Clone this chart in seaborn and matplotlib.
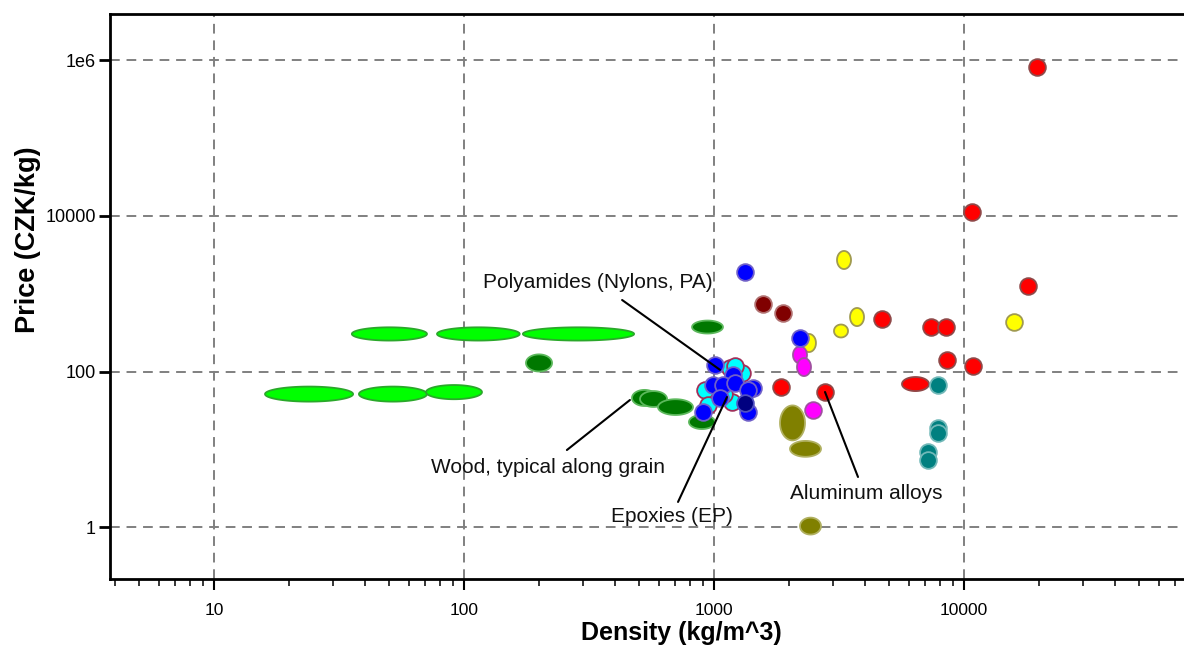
import numpy as np
import matplotlib
matplotlib.use("Agg")
import matplotlib.pyplot as plt
from matplotlib.ticker import FixedLocator, FixedFormatter, LogLocator, NullFormatter, NullLocator
import seaborn as sns

# ---- material property ranges: density (kg/m^3) and price (CZK/kg) ----
# Elongated bubbles: (low, high) ranges
foam_density = [(35.6, 71.1), (78.0, 167), (172, 479), (16.0, 36.0), (38.0, 71.1), (70.5, 118)]
foam_price = [(250, 370), (250, 370), (250, 370), (41, 64), (41, 64), (44, 67)]

wood_density = [(177, 225), (817, 1086), (470, 592), (506, 649), (597, 824), (794, 1009)]
wood_price = [(100, 166), (308, 452), (36, 58), (35, 56), (27.6, 44), (18.2, 27.6)]

ceramic_density = [(1837, 2312), (2014, 2679), (2208, 2679)]
ceramic_price = [(13, 36.6), (8, 12.8), (0.8, 1.32)]

steel_density = [(5649, 7244)]
steel_price = [(56, 85)]

glass_density = [(3105, 3532), (3501, 3981), (3020, 3436), (2251, 2557)]
glass_price = [(2080, 3550), (384, 656), (274, 402), (178, 304)]

elastomer_density = [(2070, 2355), (2148, 2443)]
elastomer_price = [(127, 210), (87.4, 149)]

# Narrow-range materials shown as points
polymer_density = [1009, 1191, 991, 1086, 1213, 1432, 1368, 1057, 1368, 904, 2208, 1330]
polymer_price = [121, 90.2, 67, 67, 71.1, 61.4, 57.8, 45.6, 30.1, 30.1, 270, 1905]

thermoset_density = [1159, 1294, 1213, 920, 946, 1180, 1100]
thermoset_price = [111, 95.7, 118, 57.8, 37.1, 40.5, 52]

dark_polymer_density = [1330]
dark_polymer_price = [39.4]

composite_density = [1570, 1888]
composite_price = [738, 565]

metal_density = [4699, 1854, 2780, 7379, 8472, 8551, 10864, 18030, 19588, 10765]
metal_price = [473, 63.2, 54.5, 373, 373, 141, 118, 1259, 8.25e5, 1.125e4]

cast_density = [7870, 7870, 7870, 7178, 7178]
cast_price = [67, 18.8, 16.2, 9.22, 7.28]

glass_point_density = [15849]
glass_point_price = [433]

elastomer_point_density = [2489]
elastomer_point_price = [32]

# Annotations: label, text position, leader end
labels = ["Polyamides (Nylons, PA)", "Wood, typical along grain", "Epoxies (EP)", "Aluminum alloys"]
label_xy = [(344, 1416), (217, 5.74), (676, 1.345), (4055, 2.66)]
leader_start = [(429, 831), (258, 9.78), (718, 2.10), (3767, 4.40)]
leader_end = [(1057, 105), (461, 43), (1127, 47), (2780, 54.5)]

x_ticks = [10, 100, 1000, 10000]
x_tick_labels = ["10", "100", "1000", "10000"]
y_ticks = [1, 100, 10000, 1e6]
y_tick_labels = ["1", "100", "10000", "1e6"]

# ---- styling ----
sns.set_theme(style="white")
plt.rcParams["font.family"] = ["Liberation Sans", "DejaVu Sans"]

fig = plt.figure(figsize=(11.84, 6.48), dpi=100)
ax = fig.add_axes([110 / 1184, 1 - 579 / 648, 1074 / 1184, 565 / 648])
ax.set_xscale("log")
ax.set_yscale("log")
ax.set_xlim(3.837, 75858)
ax.set_ylim(0.2144, 3.963e6)


def draw_bubbles(dens, price, face, edge, z=2):
    t = np.linspace(0, 2 * np.pi, 120)
    for (dlo, dhi), (plo, phi) in zip(dens, price):
        cx = (np.log10(dlo) + np.log10(dhi)) / 2
        rx = (np.log10(dhi) - np.log10(dlo)) / 2
        cy = (np.log10(plo) + np.log10(phi)) / 2
        ry = (np.log10(phi) - np.log10(plo)) / 2
        ax.fill(10 ** (cx + rx * np.cos(t)), 10 ** (cy + ry * np.sin(t)),
                facecolor=face, edgecolor=edge, linewidth=1.3, zorder=z)


def draw_points(dens, price, face, edge, z=3):
    sns.scatterplot(x=dens, y=price, ax=ax, s=145, color=face, edgecolor=edge,
                    linewidth=1.3, zorder=z, legend=False)


draw_bubbles(foam_density, foam_price, "#00ff00", "#2aa82a")
draw_bubbles(wood_density, wood_price, "#007800", "#5cb85c")
draw_bubbles(ceramic_density, ceramic_price, "#808000", "#b0b060")
draw_bubbles(glass_density, glass_price, "#ffff00", "#a09a50")
draw_bubbles(steel_density, steel_price, "#ff0000", "#904848")

draw_points(composite_density, composite_price, "#800000", "#b07070")
draw_points(cast_density, cast_price, "#008080", "#70b8b8")
draw_points(glass_point_density, glass_point_price, "#ffff00", "#a09a50")
draw_points(thermoset_density, thermoset_price, "#00ffff", "#a0305a")
draw_points(polymer_density, polymer_price, "#0000ff", "#7060c8", z=3.2)
draw_points(dark_polymer_density, dark_polymer_price, "#000080", "#5050c0", z=3.2)
draw_points(metal_density, metal_price, "#ff0000", "#904848")
draw_points(elastomer_point_density, elastomer_point_price, "#ff00ff", "#a050a0")
draw_bubbles(elastomer_density, elastomer_price, "#ff00ff", "#a050a0", z=3.1)

for text, xy, p0, p1 in zip(labels, label_xy, leader_start, leader_end):
    ax.text(xy[0], xy[1], text, ha="center", va="center", fontsize=15, color="#111111", zorder=6)
    ax.plot([p0[0], p1[0]], [p0[1], p1[1]], color="black", linewidth=1.5, zorder=5)

# ---- axes, ticks, grid ----
ax.xaxis.set_major_locator(FixedLocator(x_ticks))
ax.xaxis.set_major_formatter(FixedFormatter(x_tick_labels))
ax.xaxis.set_minor_locator(LogLocator(base=10, subs=np.arange(2, 10)))
ax.xaxis.set_minor_formatter(NullFormatter())
ax.yaxis.set_major_locator(FixedLocator(y_ticks))
ax.yaxis.set_major_formatter(FixedFormatter(y_tick_labels))
ax.yaxis.set_minor_locator(NullLocator())

ax.tick_params(axis="x", which="major", direction="out", length=8, width=1.5, pad=9,
               labelsize=12.5, colors="black", bottom=True)
ax.tick_params(axis="x", which="minor", direction="out", length=5, width=1.3, bottom=True)
ax.tick_params(axis="y", which="major", direction="out", length=8, width=2, pad=2,
               labelsize=13, colors="black", left=True)

ax.grid(True, which="major", color="#808080", linestyle=(0, (5, 3.5)), linewidth=1.4)
ax.set_axisbelow(True)

for side in ["left", "bottom", "top"]:
    ax.spines[side].set_color("black")
    ax.spines[side].set_linewidth(2)
ax.spines["right"].set_visible(False)

ax.set_xlabel("Density (kg/m^3)", fontsize=18, fontweight="bold", color="black")
ax.set_ylabel("Price (CZK/kg)", fontsize=19.5, fontweight="bold", color="black")
ax.xaxis.set_label_coords((681 - 110) / 1074, (579 - 633) / 565)
ax.xaxis.label.set_va("center")
ax.yaxis.set_label_coords((28 - 110) / 1074, (579 - 240) / 565)
ax.yaxis.label.set_va("center")

fig.savefig("out.png", dpi=100)
